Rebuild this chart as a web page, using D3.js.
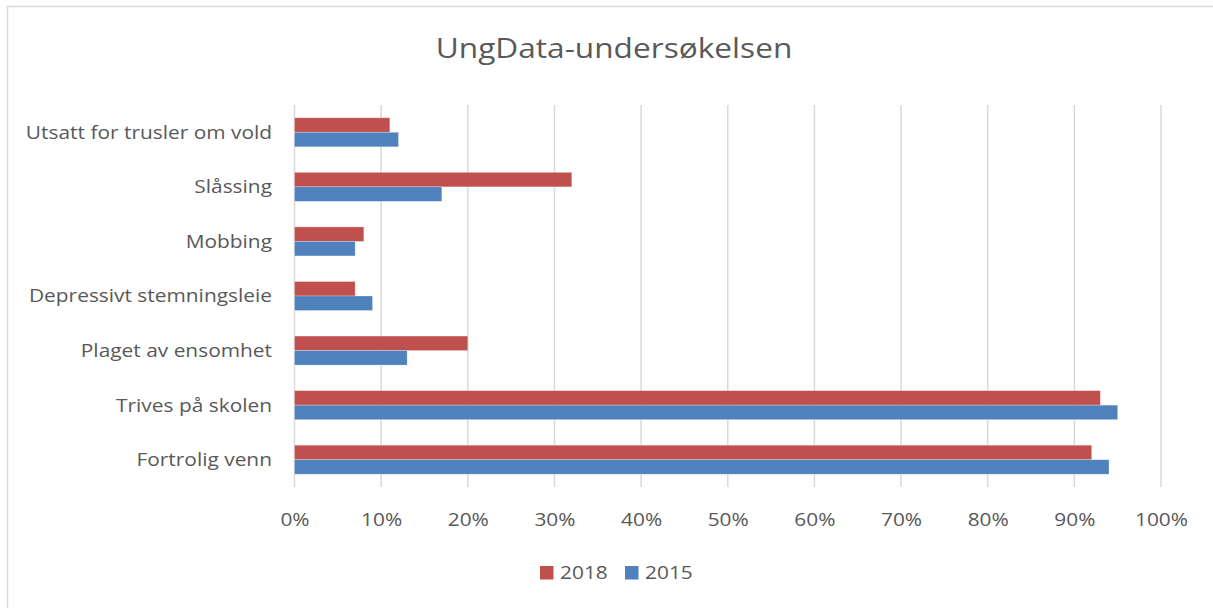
<!DOCTYPE html>
<html>
<head>
<meta charset="utf-8">
<script src="https://cdn.jsdelivr.net/npm/d3@7"></script>
<style>
  html, body { margin: 0; padding: 0; background: #fff; }
  svg { display: block; }
  text { font-family: "Open Sans", "Noto Sans", sans-serif; fill: #595959; }
</style>
</head>
<body>
<svg id="chart" width="1213" height="608"></svg>
<script>
const categories = ["Utsatt for trusler om vold", "Slåssing", "Mobbing", "Depressivt stemningsleie", "Plaget av ensomhet", "Trives på skolen", "Fortrolig venn"];
const seriesNames = ["2018", "2015"];
const values2018 = [11, 32, 8, 7, 20, 93, 92];
const values2015 = [12, 17, 7, 9, 13, 95, 94];
const tickValues = [0, 10, 20, 30, 40, 50, 60, 70, 80, 90, 100];
const colors = ["#C0504D", "#4F81BD"];
const title = "UngData-undersøkelsen";

const svg = d3.select("#chart");
const W = 1213, H = 608;
const SX = 1.13;          // horizontal text stretch to match reference typeface width
const FS = "18.5px";

// outer border
svg.append("rect").attr("x", 7.5).attr("y", 6.5).attr("width", W + 10).attr("height", H + 10)
  .attr("fill", "#fff").attr("stroke", "#d9d9d9").attr("stroke-width", 1.5);

const x = d3.scaleLinear().domain([0, 100]).range([294.5, 1161]);
const y = d3.scaleBand().domain(categories).range([105, 487]).paddingInner(0).paddingOuter(0);
const inner = d3.scaleBand().domain(seriesNames).range([0, 29]).padding(0);
const bandOffset = (y.bandwidth() - 29) / 2;

// gridlines
svg.append("g").selectAll("line").data(tickValues).join("line")
  .attr("x1", d => x(d)).attr("x2", d => x(d))
  .attr("y1", 105).attr("y2", 487)
  .attr("stroke", "#d9d9d9").attr("stroke-width", 1.5);

// title
svg.append("text").attr("transform", `translate(614,58) scale(${SX},1)`).attr("text-anchor", "middle")
  .style("font-size", "28px").text(title);

// bars
const data = categories.map((c, i) => ({ cat: c, vals: [values2018[i], values2015[i]] }));
const groups = svg.append("g").selectAll("g").data(data).join("g")
  .attr("transform", d => `translate(0,${y(d.cat) + bandOffset})`);
groups.selectAll("rect").data(d => d.vals.map((v, j) => ({ v, s: seriesNames[j], j })))
  .join("rect")
  .attr("x", x(0))
  .attr("y", d => inner(d.s))
  .attr("width", d => x(d.v) - x(0))
  .attr("height", inner.bandwidth())
  .attr("fill", d => colors[d.j])
  .attr("stroke", "rgba(255,255,255,0.35)").attr("stroke-width", 0.75);

// y axis labels
const yAxis = d3.axisLeft(y).tickSize(0).tickPadding(0);
const yg = svg.append("g").attr("transform", `translate(272,0)`).call(yAxis);
yg.select(".domain").remove();
yg.selectAll("text").style("font-size", FS).style("font-family", "'Open Sans', sans-serif")
  .attr("fill", "#595959").attr("dy", "0.35em").attr("transform", `scale(${SX},1)`);

// x axis labels
const xAxis = d3.axisBottom(x).tickValues(tickValues).tickFormat(d => d + "%").tickSize(0).tickPadding(0);
const xg = svg.append("g").attr("transform", `translate(0,512.6)`).call(xAxis);
xg.select(".domain").remove();
xg.selectAll("text").style("font-size", FS).style("font-family", "'Open Sans', sans-serif")
  .attr("fill", "#595959").attr("dy", "0.71em").attr("transform", `scale(${SX},1)`);

// legend
const legendX = [540, 625];
const lg = svg.append("g").selectAll("g").data(seriesNames).join("g")
  .attr("transform", (d, i) => `translate(${legendX[i]},566)`);
lg.append("rect").attr("width", 13.5).attr("height", 13.5).attr("fill", (d, i) => colors[i]);
lg.append("text").attr("transform", `translate(20,6.75) scale(${SX},1)`).attr("dy", "0.35em")
  .style("font-size", FS).text(d => d);
</script>
</body>
</html>
